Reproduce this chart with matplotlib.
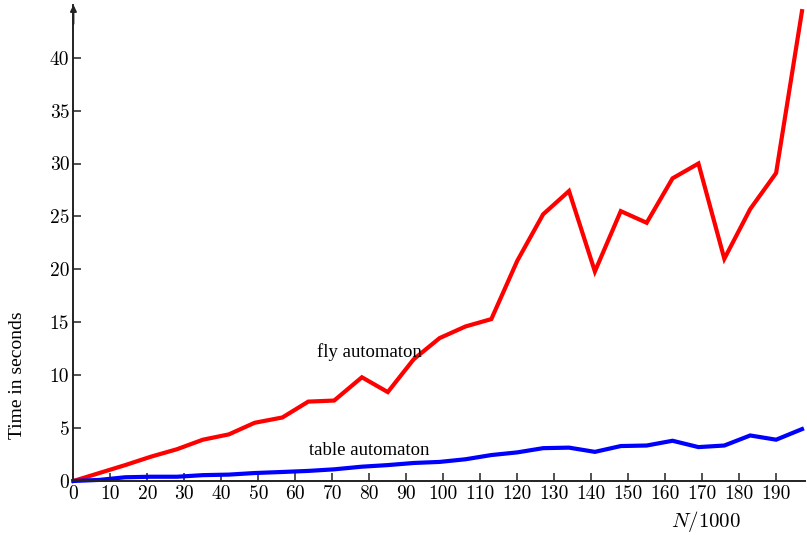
import matplotlib.pyplot as plt

# Problem size (N/1000) and running times in seconds.
n_vals = [0, 7, 14, 21, 28, 35, 42, 49, 56.5, 63.5, 70.5, 78, 85, 92, 99,
          106, 113, 120, 127, 134, 141, 148, 155, 162, 169, 176, 183, 190, 197]
fly_times = [0.0, 0.75, 1.5, 2.3, 3.0, 3.9, 4.4, 5.5, 6.0, 7.5, 7.6, 9.8, 8.4,
             11.5, 13.5, 14.6, 15.3, 20.8, 25.2, 27.4, 19.8, 25.5, 24.4, 28.6,
             30.0, 21.0, 25.7, 29.1, 44.4]
table_times = [0.0, 0.1, 0.35, 0.4, 0.4, 0.55, 0.6, 0.75, 0.85, 0.95, 1.1, 1.35,
               1.5, 1.7, 1.8, 2.05, 2.45, 2.7, 3.1, 3.15, 2.75, 3.3, 3.35, 3.8,
               3.2, 3.35, 4.3, 3.9, 4.9]

plt.rcParams['mathtext.fontset'] = 'cm'

fig = plt.figure(figsize=(8.07, 5.35), dpi=100)
ax = fig.add_axes([0.091, 0.101, 0.906, 0.89])

ax.plot(n_vals, fly_times, color='#ff0000', lw=3, solid_joinstyle='miter', clip_on=False)
ax.plot(n_vals, table_times, color='#0000ff', lw=3, solid_joinstyle='miter', clip_on=False)

ax.set_xlim(0, 197.7)
ax.set_ylim(0, 45)
ax.set_xticks(range(0, 200, 10))
ax.set_yticks(range(0, 45, 5))
ax.set_xticklabels([str(t) for t in range(0, 200, 10)], fontfamily='cmr10', fontsize=14)
ax.set_yticklabels([str(t) for t in range(0, 45, 5)], fontfamily='cmr10', fontsize=14)
ax.tick_params(direction='in', length=6, width=1.1, color='#222222', pad=3)

for side in ('top', 'right'):
    ax.spines[side].set_visible(False)
for side in ('left', 'bottom'):
    ax.spines[side].set_linewidth(1.4)
    ax.spines[side].set_color('#222222')

# arrow head on the y axis
ax.annotate('', xy=(0, 1.0), xytext=(0, 0.96), xycoords='axes fraction',
            arrowprops=dict(arrowstyle='-|>', color='#222222', lw=1.4,
                            mutation_scale=9, shrinkA=0, shrinkB=0))

ax.text(80, 12.2, 'fly automaton', fontfamily='Liberation Serif', fontsize=13.5,
        ha='center', va='center')
ax.text(80, 2.9, 'table automaton', fontfamily='Liberation Serif', fontsize=13.5,
        ha='center', va='center')

ax.set_ylabel('Time in seconds', fontfamily='Liberation Serif', fontsize=14)
ax.yaxis.set_label_coords(-0.076, 0.223)
ax.set_xlabel(r'$N/1000$', fontsize=15)
ax.xaxis.set_label_coords(0.865, -0.086)
ax.xaxis.label.set_va('center')
ax.yaxis.label.set_va('center')

fig.savefig('out.png', dpi=100)
